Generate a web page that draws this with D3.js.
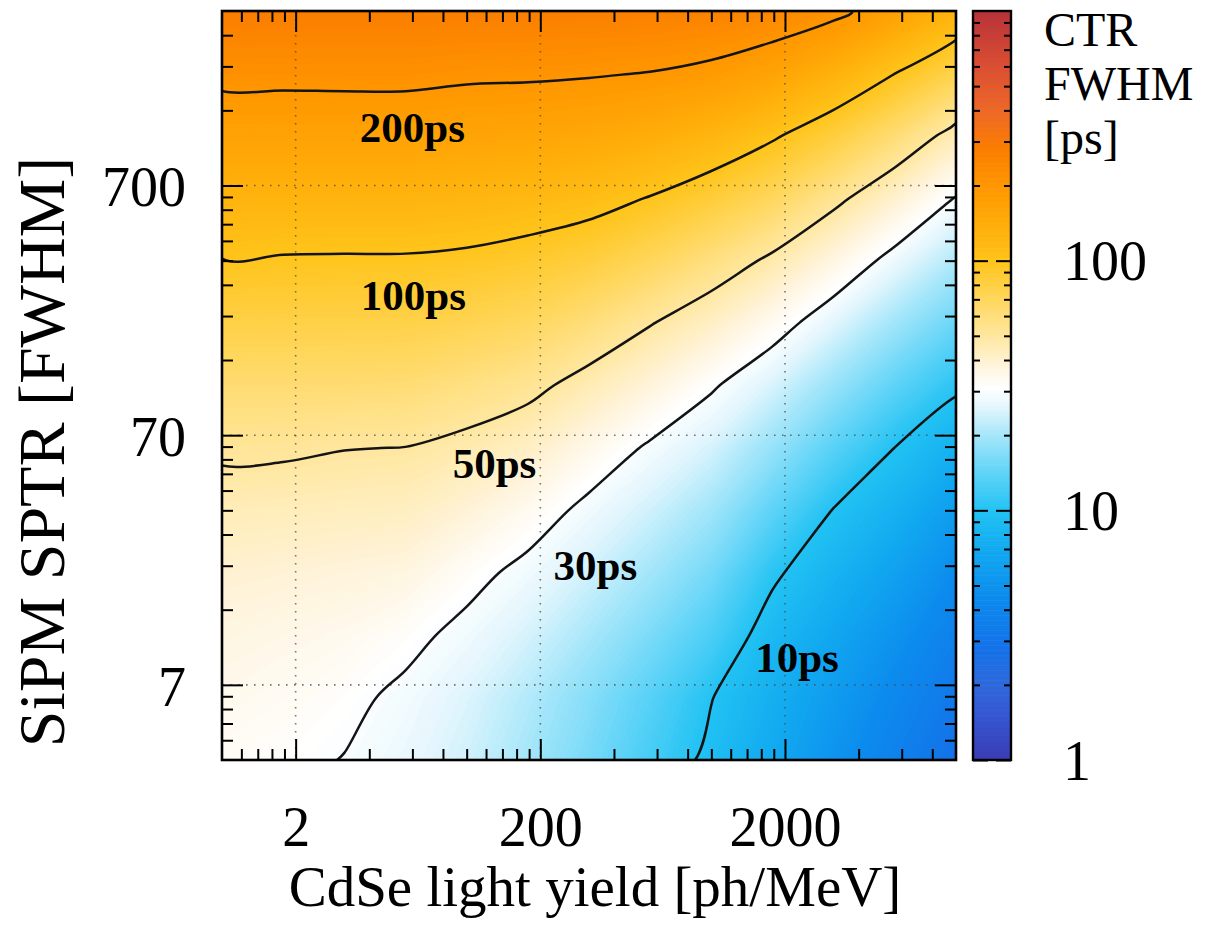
<!DOCTYPE html>
<html>
<head>
<meta charset="utf-8">
<script src="https://cdn.jsdelivr.net/npm/d3@7"></script>
<style>
  body { margin: 0; background: #fff; }
  svg { display: block; }
</style>
</head>
<body>
<svg id="chart" width="1231" height="932"></svg>
<script>
// ---------------- data ----------------
// CdSe light yield grid (columns) and SiPM SPTR grid (rows)
const lightYield = [1, 1.778, 3.162, 5.623, 10, 17.78, 31.62, 56.23, 100, 177.8, 316.2, 562.3, 1000];
const sptr = [3.5, 6.22, 11.07, 19.68, 35, 62.2, 110.7, 196.8, 350, 622, 1107, 1968, 3500];
// CTR FWHM [ps]; one row per SPTR value (bottom to top), one entry per light-yield column
const ctrRows = [
  [32.5, 31.5, 29.8, 27.2, 23.9, 19.9, 15.9, 12.3, 9.28, 6.9, 5.09, 3.73, 2.74],
  [34.5, 33.2, 31.6, 28.6, 25.3, 21.3, 17.2, 13.5, 10.1, 7.56, 5.71, 4.26, 3.18],
  [36.6, 35.5, 34.3, 31.9, 28.2, 24.5, 20.3, 16.3, 12.6, 8.69, 6.68, 5.05, 3.72],
  [39.8, 39.0, 38.0, 37.0, 32.3, 28.1, 23.9, 19.8, 15.7, 10.54, 8.03, 6.19, 4.55],
  [44.8, 44.3, 43.6, 43.0, 38.9, 33.9, 28.2, 23.9, 19.6, 14.0, 9.88, 7.78, 5.81],
  [52.2, 51.8, 50.3, 49.8, 46.7, 42.4, 35.1, 29.0, 24.5, 18.6, 13.6, 9.97, 7.71],
  [63.0, 63.0, 63.0, 62.2, 58.2, 53.6, 45.5, 38.0, 30.9, 24.8, 18.75, 14.0, 10.56],
  [78.5, 78.4, 78.0, 77.7, 74.2, 69.3, 60.5, 50.7, 42.1, 33.6, 25.9, 19.6, 14.9],
  [99.2, 97.5, 97.2, 97.1, 94.7, 89.5, 82.0, 70.7, 58.8, 47.5, 36.6, 27.5, 21.0],
  [127.4, 127, 126, 126, 123, 117.8, 111, 98.7, 84.5, 69.8, 53.7, 40.4, 29.6],
  [165.3, 165, 165, 165, 160.5, 157.3, 150.7, 139.9, 124.2, 103.5, 82.4, 62.3, 45.1],
  [215.6, 215, 216, 216, 209.7, 208, 204.4, 198.4, 185.8, 162.7, 131.4, 100.2, 75.1],
  [282, 281, 280, 280, 275, 275, 272, 269, 262, 245, 216, 169, 128]
];
const contourLevels = [10, 30, 50, 100, 200];
const contourLabelText = ["200ps", "100ps", "50ps", "30ps", "10ps"];
const contourLabelLY = [6.0, 6.06, 13.0, 33.6, 224];
const contourLabelSPTR = [1045, 222, 47.2, 18.4, 7.88];

const xTickValues = [2, 20, 200];
const xTickLabels = ["2", "200", "2000"];
const yTickValues = [7, 70, 700];
const yTickLabels = ["7", "70", "700"];
const cTickValues = [1, 10, 100];
const cTickLabels = ["1", "10", "100"];

const xTitle = "CdSe light yield [ph/MeV]";
const yTitle = "SiPM SPTR [FWHM]";
const cTitle = ["CTR", "FWHM", "[ps]"];

// ---------------- layout & styles ----------------
const SERIF = "'Liberation Serif','Times New Roman',Times,serif";
const L = 222, R = 956, T = 11, B = 760;
const CB_L = 973, CB_R = 1011;

const x = d3.scaleLog().domain([1, 1000]).range([L, R]);
const y = d3.scaleLog().domain([3.5, 3500]).range([B, T]);
const cy = d3.scaleLog().domain([1, 1000]).range([B, T]);

const stopVals = [1, 1.5, 2, 2.8, 4.5, 7, 10, 14, 20, 26, 31, 38, 50, 71, 100, 141, 200, 282, 400, 630, 1000];
const stopCols = ["#3a3cb4", "#3556d0", "#2f68dc", "#1472e8", "#0c8bee", "#12aaf0", "#22c2f3", "#5ed3f7",
  "#a5e6fa", "#e3f6fd", "#ffffff", "#fff4dc", "#ffe7a0", "#ffd65a", "#ffc41a", "#ffac08", "#ff9600",
  "#fb7d00", "#ee6828", "#d84c34", "#b8333a"];
const color = d3.scaleLog().domain(stopVals).range(stopCols).interpolate(d3.interpolateRgb).clamp(true);

const svg = d3.select("#chart");

svg.append("defs").append("clipPath").attr("id", "plotclip")
  .append("rect").attr("x", L).attr("y", T).attr("width", R - L).attr("height", B - T);

const plot = svg.append("g").attr("clip-path", "url(#plotclip)");

// ---------------- heat map via filled contour bands ----------------
const nx = lightYield.length, ny = sptr.length;
const values = [];
ctrRows.forEach(row => row.forEach(v => values.push(Math.log10(v))));

const ix = d3.scaleLinear().domain(d3.range(nx)).range(lightYield.map(Math.log10));
const iy = d3.scaleLinear().domain(d3.range(ny)).range(sptr.map(Math.log10));
const toPx = (gx, gy) => [x(Math.pow(10, ix(gx - 0.5))), y(Math.pow(10, iy(gy - 0.5)))];
const proj = d3.geoTransform({
  point(gx, gy) { const p = toPx(gx, gy); this.stream.point(p[0], p[1]); }
});
const path = d3.geoPath(proj);

const step = 0.01;
const bandThresholds = d3.range(0.40, 2.50, step);
const bands = d3.contours().size([nx, ny]).thresholds(bandThresholds)(values);

plot.append("rect").attr("x", L).attr("y", T).attr("width", R - L).attr("height", B - T)
  .attr("fill", color(2.7));
plot.selectAll("path.band").data(bands).join("path")
  .attr("class", "band")
  .attr("d", path)
  .attr("fill", d => color(Math.pow(10, d.value + step / 2)))
  .attr("stroke", "none");

// grid lines
plot.selectAll("line.gx").data(xTickValues).join("line").attr("class", "gx")
  .attr("x1", d => x(d)).attr("x2", d => x(d)).attr("y1", T).attr("y2", B);
plot.selectAll("line.gy").data(yTickValues).join("line").attr("class", "gy")
  .attr("y1", d => y(d)).attr("y2", d => y(d)).attr("x1", L).attr("x2", R);
plot.selectAll("line.gx, line.gy")
  .attr("stroke", "#4a4a4a").attr("stroke-opacity", 0.75)
  .attr("stroke-width", 1.6).attr("stroke-dasharray", "1.6,6.4");

// contour lines (smoothed rings in pixel space)
const isolines = d3.contours().size([nx, ny]).thresholds(contourLevels.map(Math.log10))(values);
const ringLine = d3.line().curve(d3.curveCatmullRomClosed.alpha(0.5));
const rings = [];
isolines.forEach(mp => mp.coordinates.forEach(poly => poly.forEach(ring => {
  rings.push(ring.slice(0, -1).map(p => toPx(p[0], p[1])));
})));
plot.selectAll("path.iso").data(rings).join("path")
  .attr("class", "iso")
  .attr("d", d => ringLine(d))
  .attr("fill", "none")
  .attr("stroke", "#141414")
  .attr("stroke-width", 2.5)
  .attr("stroke-linejoin", "round");

// contour labels
svg.append("g").selectAll("text").data(contourLabelText).join("text")
  .attr("x", (d, i) => x(contourLabelLY[i]))
  .attr("y", (d, i) => y(contourLabelSPTR[i]))
  .attr("text-anchor", "middle")
  .attr("font-family", SERIF).attr("font-weight", "bold").attr("font-size", 43)
  .attr("fill", "#000")
  .text(d => d);

// ---------------- axes ----------------
function minorTicks(bases, lo, hi, majors) {
  const out = [];
  bases.forEach(b => d3.range(2, 10).forEach(k => {
    const v = +(b * k).toPrecision(6);
    if (v > lo * 1.0001 && v < hi * 0.9999 && !majors.includes(v)) out.push(v);
  }));
  return out;
}
const xMinor = minorTicks([0.2, 2, 20, 200], 1, 1000, xTickValues);
const yMinor = minorTicks([0.7, 7, 70, 700], 3.5, 3500, yTickValues);
const cMinor = minorTicks([1, 10, 100], 1, 1000, cTickValues);

function styleAxis(g, fs) {
  g.select(".domain").remove();
  g.selectAll(".tick line").attr("stroke", "#000").attr("stroke-width", 2);
  g.selectAll("text").attr("font-family", SERIF).attr("font-size", fs).attr("fill", "#000");
  g.attr("font-family", null).attr("font-size", null);
}

// bottom
svg.append("g").attr("transform", `translate(0,${B})`)
  .call(d3.axisBottom(x).tickValues(xTickValues).tickSize(-21).tickPadding(46)
    .tickFormat((d, i) => xTickLabels[i]))
  .call(g => styleAxis(g, 56));
svg.append("g").attr("transform", `translate(0,${B})`)
  .call(d3.axisBottom(x).tickValues(xMinor).tickSize(-11).tickFormat(""))
  .call(g => styleAxis(g, 56));
// top
svg.append("g").attr("transform", `translate(0,${T})`)
  .call(d3.axisTop(x).tickValues(xTickValues).tickSize(-21).tickFormat(""))
  .call(g => styleAxis(g, 56));
svg.append("g").attr("transform", `translate(0,${T})`)
  .call(d3.axisTop(x).tickValues(xMinor).tickSize(-11).tickFormat(""))
  .call(g => styleAxis(g, 56));
// left
svg.append("g").attr("transform", `translate(${L},0)`)
  .call(d3.axisLeft(y).tickValues(yTickValues).tickSize(-21).tickPadding(36)
    .tickFormat((d, i) => yTickLabels[i]))
  .call(g => styleAxis(g, 56))
  .call(g => g.selectAll("text").attr("dy", "0.36em"));
svg.append("g").attr("transform", `translate(${L},0)`)
  .call(d3.axisLeft(y).tickValues(yMinor).tickSize(-11).tickFormat(""))
  .call(g => styleAxis(g, 56));
// right
svg.append("g").attr("transform", `translate(${R},0)`)
  .call(d3.axisRight(y).tickValues(yTickValues).tickSize(-21).tickFormat(""))
  .call(g => styleAxis(g, 56));
svg.append("g").attr("transform", `translate(${R},0)`)
  .call(d3.axisRight(y).tickValues(yMinor).tickSize(-11).tickFormat(""))
  .call(g => styleAxis(g, 56));

// frame
svg.append("rect").attr("x", L).attr("y", T).attr("width", R - L).attr("height", B - T)
  .attr("fill", "none").attr("stroke", "#000").attr("stroke-width", 2.6);

// axis titles
svg.append("text")
  .attr("x", (L + R) / 2 + 6).attr("y", 906)
  .attr("text-anchor", "middle")
  .attr("font-family", SERIF).attr("font-size", 57).attr("fill", "#000")
  .text(xTitle);
svg.append("text")
  .attr("transform", `translate(64,452) rotate(-90)`)
  .attr("text-anchor", "middle")
  .attr("font-family", SERIF).attr("font-size", 66).attr("fill", "#000")
  .text(yTitle);

// ---------------- colour bar ----------------
const nSteps = 300;
const cbSteps = d3.range(nSteps).map(k => [Math.pow(10, 3 * k / nSteps), Math.pow(10, 3 * (k + 1) / nSteps)]);
svg.append("g").selectAll("rect").data(cbSteps).join("rect")
  .attr("x", CB_L).attr("width", CB_R - CB_L)
  .attr("y", d => cy(d[1]))
  .attr("height", d => cy(d[0]) - cy(d[1]) + 0.6)
  .attr("fill", d => color(Math.sqrt(d[0] * d[1])));

svg.append("g").attr("transform", `translate(${CB_R},0)`)
  .call(d3.axisRight(cy).tickValues(cTickValues).tickSize(-15).tickPadding(52)
    .tickFormat((d, i) => cTickLabels[i]))
  .call(g => styleAxis(g, 56))
  .call(g => g.selectAll("text").attr("dy", "0.34em"));
svg.append("g").attr("transform", `translate(${CB_R},0)`)
  .call(d3.axisRight(cy).tickValues(cMinor).tickSize(-7).tickFormat(""))
  .call(g => styleAxis(g, 56));
svg.append("g").attr("transform", `translate(${CB_L},0)`)
  .call(d3.axisLeft(cy).tickValues(cTickValues).tickSize(-15).tickFormat(""))
  .call(g => styleAxis(g, 56));
svg.append("g").attr("transform", `translate(${CB_L},0)`)
  .call(d3.axisLeft(cy).tickValues(cMinor).tickSize(-7).tickFormat(""))
  .call(g => styleAxis(g, 56));
svg.append("rect").attr("x", CB_L).attr("y", T).attr("width", CB_R - CB_L).attr("height", B - T)
  .attr("fill", "none").attr("stroke", "#000").attr("stroke-width", 2.4);

svg.append("g").selectAll("text").data(cTitle).join("text")
  .attr("x", 1044)
  .attr("y", (d, i) => 46 + i * 54)
  .attr("font-family", SERIF).attr("font-size", 48).attr("fill", "#000")
  .text(d => d);
</script>
</body>
</html>
